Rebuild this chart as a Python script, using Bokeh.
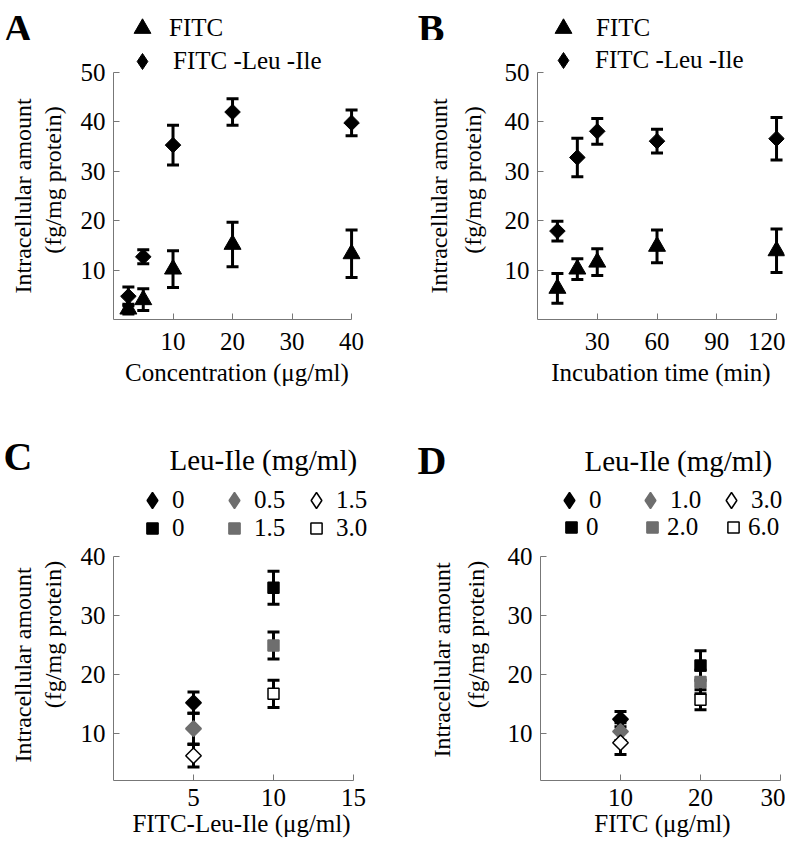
import numpy as np
from bokeh.plotting import figure
from bokeh.layouts import column, row
from bokeh.models import (Range1d, FixedTicker, ColumnDataSource, Whisker, TeeHead,
                          Legend, LegendItem, Label, Title)
from bokeh.embed import file_html
from bokeh.resources import INLINE

FONT = "Liberation Serif"
GRAY = "#6e6e6e"

# ---------------- data ----------------
# Panel A: concentration (ug/ml)
a_x = [2.5, 5, 10, 20, 40]
a_fitc = [2.1, 4.0, 10.2, 15.2, 13.3]
a_fitc_err = [1.0, 2.2, 3.7, 4.5, 4.8]
a_dip = [4.7, 12.7, 35.3, 42.0, 39.8]
a_dip_err = [1.9, 1.4, 4.0, 2.7, 2.6]

# Panel B: incubation time (min)
b_x = [10, 20, 30, 60, 120]
b_fitc = [6.3, 10.2, 11.6, 14.8, 13.9]
b_fitc_err = [3.0, 2.1, 2.7, 3.3, 4.4]
b_dip = [17.9, 32.8, 38.1, 36.1, 36.6]
b_dip_err = [2.0, 3.9, 2.6, 2.4, 4.3]

# Panel C: FITC-Leu-Ile (ug/ml) with Leu-Ile (mg/ml)
c_labels = ["0", "0.5", "1.5", "0", "1.5", "3.0"]
c_x = [5, 5, 5, 10, 10, 10]
c_y = [15.2, 10.8, 6.2, 34.7, 24.9, 16.7]
c_err = [1.8, 2.6, 1.9, 2.8, 2.3, 2.3]

# Panel D: FITC (ug/ml) with Leu-Ile (mg/ml)
d_labels = ["0", "1.0", "3.0", "0", "2.0", "6.0"]
d_x = [10, 10, 10, 20, 20, 20]
d_y = [12.4, 10.3, 8.4, 21.5, 18.7, 15.7]
d_err = [1.3, 1.5, 2.0, 2.5, 2.0, 1.7]

a_xticks = [10, 20, 30, 40]
b_xticks = [30, 60, 90, 120]
c_xticks = [5, 10, 15]
d_xticks = [10, 20, 30]
ab_yticks = [10, 20, 30, 40, 50]
cd_yticks = [10, 20, 30, 40]

series_fill = ["black", GRAY, "white", "black", GRAY, "white"]
series_line = ["black", GRAY, "black", "black", GRAY, "black"]
series_angle = [np.pi / 4] * 3 + [0.0] * 3

W = 389  # width of each quadrant


def base_fig(left, fw, top, fh, bottom, xr, yr, **kw):
    p = figure(frame_width=fw, frame_height=fh,
               min_border_left=left, min_border_right=W - left - fw,
               min_border_top=top, min_border_bottom=bottom,
               x_range=Range1d(*xr), y_range=Range1d(*yr),
               output_backend="svg", toolbar_location=None, tools="", **kw)
    p.outline_line_color = None
    p.grid.visible = False
    return p


def make_fig(left, fw, fh, bottom, xr, xbounds, yr, ybounds, xticks, yticks, xlabel,
             xstand, xlstand, ylstand, tstand, toff):
    p = base_fig(left, fw, 0, fh, bottom, xr, yr)
    for ax in (p.xaxis[0], p.yaxis[0]):
        ax.axis_line_color = "#777777"
        ax.major_tick_line_color = "#777777"
        ax.major_tick_in = 6
        ax.major_tick_out = 0
        ax.minor_tick_line_color = None
        ax.major_label_text_font = FONT
        ax.major_label_text_font_size = "25px"
        ax.major_label_text_color = "black"
        ax.axis_label_text_font = FONT
        ax.axis_label_text_font_style = "normal"
        ax.axis_label_text_color = "black"
    p.xaxis.bounds = xbounds
    p.yaxis.bounds = ybounds
    p.xaxis.ticker = FixedTicker(ticks=xticks)
    p.yaxis.ticker = FixedTicker(ticks=yticks)
    p.xaxis.axis_label = xlabel
    p.xaxis.axis_label_text_font_size = "25px"
    p.xaxis.major_label_standoff = xstand
    p.xaxis.axis_label_standoff = xlstand
    p.yaxis.axis_label = "(fg/mg protein)"
    p.yaxis.axis_label_text_font_size = "24px"
    p.yaxis.major_label_standoff = 8
    p.yaxis.axis_label_standoff = ylstand
    p.add_layout(Title(text="Intracellular amount", align="left", text_font=FONT,
                       text_font_size="24px", text_font_style="normal",
                       text_color="black", standoff=tstand, offset=toff), "left")
    return p


def header_fig(left, fw, h, letter, letter_y, letter_standoff):
    p = base_fig(left, fw, 0, h, 0, (0, fw), (0, h), x_axis_location=None)
    ax = p.yaxis[0]
    ax.ticker = FixedTicker(ticks=[letter_y])
    ax.major_label_overrides = {letter_y: letter}
    ax.axis_line_color = None
    ax.major_tick_line_color = None
    ax.minor_tick_line_color = None
    ax.major_label_standoff = letter_standoff
    ax.major_label_text_font = FONT
    ax.major_label_text_font_size = "40px"
    ax.major_label_text_font_style = "bold"
    ax.major_label_text_color = "black"
    return p


def add_err(p, xs, ys, es):
    src = ColumnDataSource(dict(x=xs,
                                upper=[y + e for y, e in zip(ys, es)],
                                lower=[y - e for y, e in zip(ys, es)]))
    p.add_layout(Whisker(source=src, base="x", upper="upper", lower="lower",
                         line_width=3, line_color="black",
                         upper_head=TeeHead(size=12, line_width=3, line_color="black"),
                         lower_head=TeeHead(size=12, line_width=3, line_color="black")))


def make_legend(items, loc, box, standoff, lw=20, ncols=1):
    return Legend(items=items, location=loc, orientation="horizontal", ncols=ncols,
                  glyph_width=box, glyph_height=box, label_standoff=standoff,
                  label_width=lw, spacing=0, padding=0, margin=0,
                  border_line_color=None, background_fill_alpha=0,
                  label_text_font=FONT, label_text_font_size="25px",
                  label_text_color="black")


# row 1: header 0..40 px, frame top at 40 px, value 50 at 72 px, axis at 319 px
Y1_END = 50 * 279 / 247


def time_quadrant(letter, letter_so, left, fw, xr, xbounds, xticks, xlabel,
                  xs, fitc, fitc_err, dip, dip_err, ylstand, tstand, leg):
    h = header_fig(left, fw, 40, letter, 23, letter_so)
    h_tri = h.scatter(xs, fitc, marker="triangle", size=17, color="black", visible=False)
    (t_x, t_y, t_s), (d_x_, d_y_, d_s) = leg
    h.add_layout(make_legend([LegendItem(label="FITC", renderers=[h_tri])],
                             (t_x, t_y), 42, t_s))
    p = make_fig(left, fw, 279, 100, xr, xbounds, (0, Y1_END), (0, 50), xticks, ab_yticks,
                 xlabel, 13, 6, ylstand, tstand, 26)
    add_err(p, xs, fitc, fitc_err)
    add_err(p, xs, dip, dip_err)
    p.scatter(xs, fitc, marker="triangle", size=17, color="black")
    p.scatter(xs, dip, marker="square", angle=np.pi / 4, size=11, color="black")
    p_dia = p.scatter(xs, dip, marker="diamond", size=16, color="black", visible=False)
    p.add_layout(make_legend([LegendItem(label="FITC -Leu -Ile", renderers=[p_dia])],
                             (d_x_, d_y_), 40, d_s))
    return column(h, p)


# row 2: header 419..488 px, frame 488..780 px, value 40 at 556 px
Y2_END = 2 + 292 / 5.895


def inhib_quadrant(letter, letter_y, letter_so, left, fw, xr, xbounds, xticks, xlabel,
                   xs, ys, es, labels, ylstand, tstand, toff, title_pos, dia_leg, sq_leg):
    h = header_fig(left, fw, 69, letter, letter_y, letter_so)
    h.add_layout(Label(x=title_pos[0], y=title_pos[1], text="Leu-Ile (mg/ml)",
                       text_font=FONT, text_font_size="29px",
                       text_baseline="alphabetic", text_color="black"))
    p = make_fig(left, fw, 292, 65, xr, xbounds, (2, Y2_END), (2, 40), xticks, cd_yticks,
                 xlabel, 8, 1, ylstand, tstand, toff)
    add_err(p, xs, ys, es)
    dia_items, sq_items = [], []
    for i in range(len(xs)):
        p.scatter([xs[i]], [ys[i]], marker="square", angle=series_angle[i], size=11,
                  fill_color=series_fill[i], line_color=series_line[i], line_width=1.5)
        if i < 3:
            r = p.scatter([xs[i]], [ys[i]], marker="diamond", size=16,
                          fill_color=series_fill[i], line_color=series_line[i],
                          line_width=1.5, visible=False)
            dia_items.append(LegendItem(label=labels[i], renderers=[r]))
        else:
            r = p.scatter([xs[i]], [ys[i]], marker="square", size=11,
                          fill_color=series_fill[i], line_color=series_line[i],
                          line_width=1.5, visible=False)
            sq_items.append(LegendItem(label=labels[i], renderers=[r]))
    p.add_layout(make_legend(dia_items, dia_leg[0], 40, dia_leg[1], dia_leg[2], ncols=3))
    p.add_layout(make_legend(sq_items, sq_leg[0], 28, sq_leg[1], sq_leg[2], ncols=3))
    return column(h, p)


qA = time_quadrant("A", 75, 106, 247, (0, 41.5), (0, 40), a_xticks,
                   "Concentration (\u03bcg/ml)", a_x, a_fitc, a_fitc_err, a_dip, a_dip_err,
                   12, 2, ((8, -9, 6), (9, 238, 11)))

qB = time_quadrant("B", 87, 141, 247, (0, 124), (0, 120), b_xticks,
                   "Incubation time (min)", b_x, b_fitc, b_fitc_err, b_dip, b_dip_err,
                   16, 10, ((5, -9, 12), (6, 239, 12)))

qC = inhib_quadrant("C", 32, 75, 106, 256, (0, 16), (0, 15), c_xticks,
                    "FITC-Leu-Ile (\u03bcg/ml)", c_x, c_y, c_err, c_labels, 12, 2, 18,
                    (56, 29), ((19, 260), 0, 42), ((25, 238), 6, 48))

qD = inhib_quadrant("D", 28, 88, 144, 244, (0, 30.5), (0, 30), d_xticks,
                    "FITC (\u03bcg/ml)", d_x, d_y, d_err, d_labels, 16, 10, 23,
                    (44, 28), ((9, 260), 0, 41), ((17, 239), 1, 52))

layout = column(row(qA, qB), row(qC, qD))
open("out.html", "w").write(file_html(layout, INLINE))
